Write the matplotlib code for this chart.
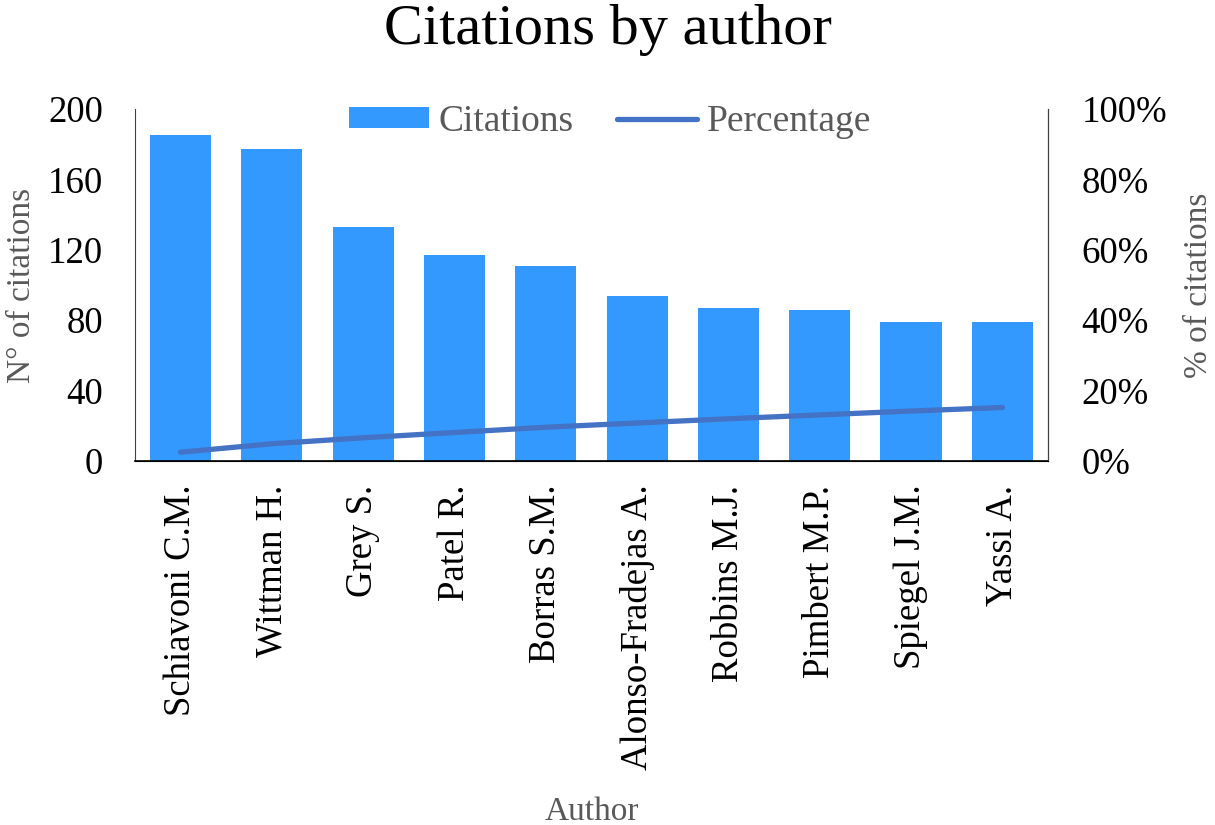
import matplotlib
matplotlib.use("Agg")
import matplotlib.pyplot as plt
from matplotlib.ticker import FuncFormatter, MultipleLocator

# Citations per author, with cumulative share of all citations
AUTHORS = ["Schiavoni C.M.", "Wittman H.", "Grey S.", "Patel R.", "Borras S.M.",
           "Alonso-Fradejas A.", "Robbins M.J.", "Pimbert M.P.", "Spiegel J.M.",
           "Yassi A."]
CITATIONS = [185, 177, 133, 117, 111, 94, 87, 86, 79, 79]
PERCENTAGE = [2.5, 4.9, 6.6, 8.1, 9.6, 10.8, 12.0, 13.1, 14.2, 15.2]

C_BAR, C_LINE = "#3399FF", "#4472C4"
GREY = "#595959"
FS_TICK, FS_LABEL = 26.5, 24

plt.rcParams["font.family"] = ["Liberation Serif", "DejaVu Serif"]

fig = plt.figure(figsize=(12.15, 8.25), dpi=100)
ax = fig.add_axes([0.111, 0.4412, 0.7516, 0.4267])
ax2 = ax.twinx()

x = range(len(AUTHORS))
bars = ax.bar(x, CITATIONS, 0.67, color=C_BAR, label="Citations", zorder=2)
line, = ax2.plot(x, PERCENTAGE, color=C_LINE, lw=3.8, label="Percentage",
                 solid_capstyle="round")

ax.set_xlim(-0.5, len(AUTHORS) - 0.5)
ax.set_ylim(0, 200)
ax.yaxis.set_major_locator(MultipleLocator(40))
ax2.set_ylim(0, 100)
ax2.yaxis.set_major_locator(MultipleLocator(20))
ax2.yaxis.set_major_formatter(FuncFormatter(lambda v, _: f"{v:.0f}%"))

ax.set_xticks(list(x))
ax.set_xticklabels(AUTHORS, rotation=90)
ax.tick_params(axis="y", length=0, labelsize=FS_TICK, pad=23)
ax.tick_params(axis="x", length=0, labelsize=FS_TICK, pad=17)
ax2.tick_params(axis="y", length=0, labelsize=FS_TICK, pad=24)

for a in (ax, ax2):
    a.spines["top"].set_visible(False)
ax.spines["left"].set_color("#404040")
ax2.spines["left"].set_visible(False)
ax2.spines["right"].set_color("#404040")
ax.spines["bottom"].set_linewidth(1.2)

ax.set_ylabel("N° of citations", fontsize=FS_LABEL, color=GREY, labelpad=8)
ax2.set_ylabel("% of citations", fontsize=FS_LABEL, color=GREY, rotation=90,
               labelpad=12)
ax.set_xlabel("Author", fontsize=FS_LABEL, color=GREY, labelpad=19)

fig.suptitle("Citations by author", fontsize=42, y=0.995)

leg = ax.legend([bars, line], ["Citations", "Percentage"], loc="center",
                bbox_to_anchor=(0.502, 0.853), bbox_transform=fig.transFigure,
                ncol=2, frameon=False, fontsize=27,
                handlelength=2.15, handleheight=0.5, columnspacing=1.15,
                handletextpad=0.25, borderpad=0)
for t in leg.get_texts():
    t.set_color(GREY)

fig.savefig("out.png", dpi=100)
